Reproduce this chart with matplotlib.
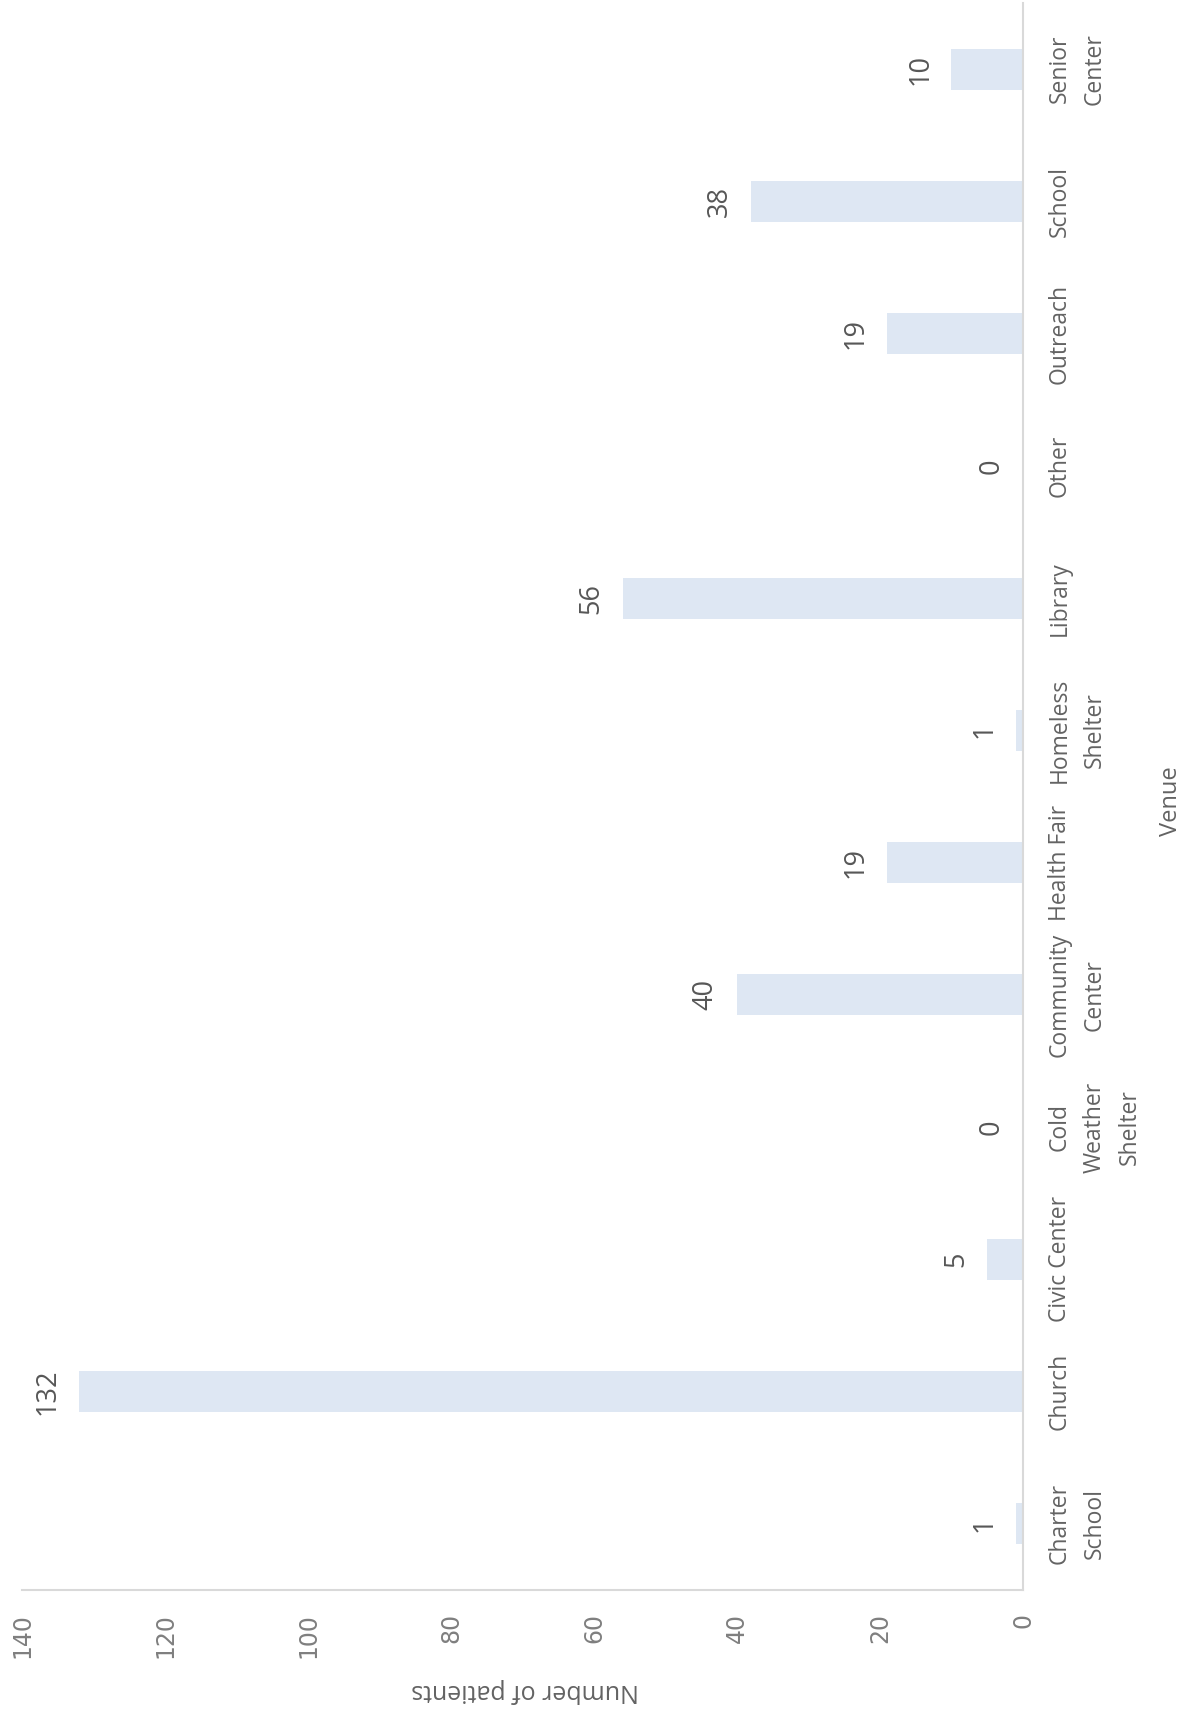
import matplotlib
matplotlib.use("Agg")
import matplotlib.pyplot as plt
import numpy as np

# donnees
venues = ["Charter\nSchool", "Church", "Civic Center", "Cold\nWeather\nShelter",
          "Community\nCenter", "Health Fair", "Homeless\nShelter", "Library",
          "Other", "Outreach", "School", "Senior\nCenter"]
patients = [1, 132, 5, 0, 40, 19, 1, 56, 0, 19, 38, 10]
value_ticks = [0, 20, 40, 60, 80, 100, 120, 140]

plt.rcParams['font.family'] = ['Open Sans', 'DejaVu Sans']

W, H = 1185, 1711
fig = plt.figure(figsize=(W / 100, H / 100), dpi=100)
# axes placed in pixel coords of the reference
x0, x1 = 22, 1023
ytop, ybot = 3, 1590
ax = fig.add_axes([x0 / W, 1 - ybot / H, (x1 - x0) / W, (ybot - ytop) / H])

pos = np.arange(len(venues))
ax.barh(pos, patients, height=0.31, color='#DEE7F3')
ax.set_xlim(140, 0)
ax.set_ylim(-0.5, len(venues) - 0.5)

# etiquettes de valeurs
for p, v in zip(pos, patients):
    ax.annotate(str(v), (v, p), xytext=(-12.5, 0), textcoords='offset points',
                rotation=90, ha='right', va='center', fontsize=19.5, color='#575757')

for s in ['left', 'top']:
    ax.spines[s].set_visible(False)
for s in ['right', 'bottom']:
    ax.spines[s].set_color('#D9D9D9')
    ax.spines[s].set_linewidth(1.5)

ax.yaxis.tick_right()
ax.set_yticks(pos)
ax.set_yticklabels(venues, rotation=90, fontsize=16.5, color='#636363',
                   ha='left', va='center', multialignment='center', linespacing=1.6)
ax.tick_params(axis='y', length=0, pad=18)

ax.set_xticks(value_ticks)
ax.set_xticklabels([str(t) for t in value_ticks], rotation=90, fontsize=17,
                   color='#7F7F7F', family=['Liberation Sans Narrow', 'DejaVu Sans'],
                   ha='center', va='top')
ax.tick_params(axis='x', length=0, pad=16.5)

fig.text(1171 / W, 1 - 801 / H, 'Venue', rotation=90, ha='center', va='center',
         fontsize=17, color='#636363')
fig.text(525 / W, 1 - 1690 / H, 'Number of patients', rotation=180, ha='center',
         va='center', fontsize=18, color='#636363')

fig.savefig('out.png', dpi=100)
